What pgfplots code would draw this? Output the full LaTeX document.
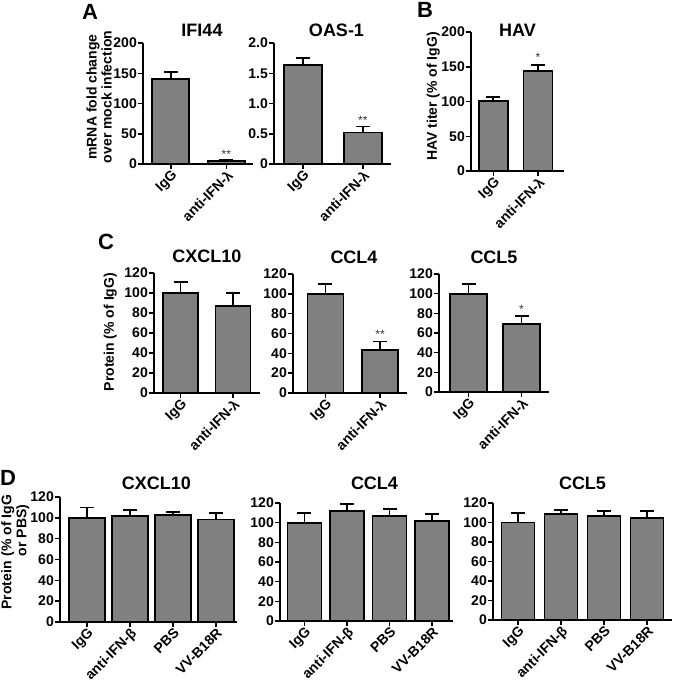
\documentclass[border=0pt]{standalone}
\usepackage{fontspec}
\setmainfont{Liberation Sans}
\usepackage{pgfplots}
\pgfplotsset{compat=1.18}
\definecolor{barfill}{RGB}{128,128,128}

\pgfplotsset{
  gp/.style={
    scale only axis, anchor=south west,
    axis x line*=bottom, axis y line*=left,
    axis line style={line width=1.8pt},
    ymin=0, clip=false, ybar,
    tick align=outside, major tick length=5pt,
    tick style={line width=1.5pt, black},
    xtick=data,
    ticklabel style={font=\fontsize{14}{16}\selectfont\bfseries, inner sep=1pt},
    /pgf/number format/assume math mode=true,
    xticklabel style={rotate=45, anchor=north east, inner sep=0pt},
    title style={font=\fontsize{18}{20}\selectfont\bfseries, anchor=base, at={(0.5,1)}},
    label style={font=\fontsize{14}{15}\selectfont\bfseries},
    ylabel style={anchor=south, inner sep=0pt},
    every axis plot/.append style={fill=barfill, draw=black, line width=1.8pt},
  },
  eb/.style={error bars/.cd, y dir=plus, y explicit,
    error bar style={line width=1.8pt, black},
    error mark options={rotate=90, line width=1.8pt, mark size=7pt, black}},
}
\tikzset{sig/.style={font=\fontsize{12}{12}\selectfont, text=black!80, anchor=north, inner sep=0pt}}

\begin{document}
\begin{tikzpicture}
\path[use as bounding box] (0,0) rectangle (675pt,-691pt);

% ---- A ----
\node[font=\fontsize{22}{24}\selectfont\bfseries] at (90pt,-12pt) {A};
\begin{axis}[gp, at={(143pt,-164pt)}, width=110pt, height=121pt,
  xmin=-0.5, xmax=1.48, ymax=200, ytick={0,50,100,150,200}, bar width=37pt,
  xticklabels={IgG,anti-IFN-λ},
  title=IFI44, title style={xshift=4pt, yshift=1pt},
  ylabel={mRNA fold change\\over mock infection},
  ylabel style={align=center, at={(axis description cs:-0.282,0.554)}}]
\addplot[eb] coordinates {(0,140) +- (0,12) (1,4.5) +- (0,2)};
\node[sig] at (axis cs:1,23) {**};
\end{axis}

\begin{axis}[gp, at={(274pt,-164pt)}, width=117pt, height=121pt,
  xmin=-0.48, xmax=1.47, ymax=2, ytick={0,0.5,1,1.5,2},
  yticklabels={0,0.5,1.0,1.5,2.0}, bar width=38pt,
  xticklabels={IgG,anti-IFN-λ},
  title=OAS-1, title style={xshift=4pt, yshift=1pt}]
\addplot[eb] coordinates {(0,1.63) +- (0,0.12) (1,0.52) +- (0,0.10)};
\node[sig] at (axis cs:1,0.79) {**};
\end{axis}

% ---- B ----
\node[font=\fontsize{22}{24}\selectfont\bfseries] at (425pt,-10pt) {B};
\begin{axis}[gp, at={(471pt,-171pt)}, width=93pt, height=139pt,
  xmin=-0.5, xmax=1.58, ymax=200, ytick={0,50,100,150,200}, bar width=29pt,
  xticklabels={IgG,anti-IFN-λ},
  title=HAV, title style={yshift=-10pt},
  ylabel={HAV titer (\% of IgG)},
  ylabel style={at={(axis description cs:-0.333,0.536)}}]
\addplot[eb] coordinates {(0,101) +- (0,6) (1,144) +- (0,8)};
\node[sig] at (axis cs:1,170) {*};
\end{axis}

% ---- C ----
\node[font=\fontsize{22}{24}\selectfont\bfseries] at (106pt,-242pt) {C};
\begin{axis}[gp, at={(154pt,-393pt)}, width=106pt, height=120pt,
  xmin=-0.505, xmax=1.514, ymax=120, ytick={0,20,...,120}, bar width=35pt,
  xticklabels={IgG,anti-IFN-λ},
  title=CXCL10, title style={yshift=5pt},
  ylabel={Protein (\% of IgG)},
  ylabel style={at={(axis description cs:-0.349,0.508)}}]
\addplot[eb] coordinates {(0,100) +- (0,11) (1,87) +- (0,13)};
\end{axis}

\begin{axis}[gp, at={(293pt,-393pt)}, width=114pt, height=119pt,
  xmin=-0.596, xmax=1.495, ymax=120, ytick={0,20,...,120}, bar width=36pt,
  xticklabels={IgG,anti-IFN-λ},
  title=CCL4, title style={xshift=4pt, yshift=5pt}]
\addplot[eb] coordinates {(0,100) +- (0,10) (1,43.5) +- (0,8.5)};
\node[sig] at (axis cs:1,63.5) {**};
\end{axis}

\begin{axis}[gp, at={(439pt,-392pt)}, width=110pt, height=118pt,
  xmin=-0.557, xmax=1.519, ymax=120, ytick={0,20,...,120}, bar width=37pt,
  xticklabels={IgG,anti-IFN-λ},
  title=CCL5, title style={yshift=5pt}]
\addplot[eb] coordinates {(0,100) +- (0,10) (1,69) +- (0,8)};
\node[sig] at (axis cs:1,88.5) {*};
\end{axis}

% ---- D ----
\node[font=\fontsize{22}{24}\selectfont\bfseries] at (8pt,-478pt) {D};
\begin{axis}[gp, at={(60pt,-622pt)}, width=177pt, height=125pt,
  xmin=-0.628, xmax=3.49, ymax=120, ytick={0,20,...,120}, bar width=36pt,
  xticklabels={IgG,anti-IFN-β,PBS,VV-B18R},
  title=CXCL10, title style={xshift=8pt, yshift=2pt},
  ylabel={Protein\hspace{5pt}\begin{tabular}[t]{@{}l@{}}(\% of IgG\\or PBS)\end{tabular}},
  ylabel style={at={(axis description cs:-0.164,0.56)}}]
\addplot[eb] coordinates {(0,100) +- (0,10) (1,101.5) +- (0,6) (2,103) +- (0,2.5) (3,98.5) +- (0,6.5)};
\end{axis}

\begin{axis}[gp, at={(280pt,-621pt)}, width=173pt, height=118pt,
  xmin=-0.576, xmax=3.494, ymax=120, ytick={0,20,...,120}, bar width=34pt,
  xticklabels={IgG,anti-IFN-β,PBS,VV-B18R},
  title=CCL4, title style={xshift=8pt, yshift=8pt}]
\addplot[eb] coordinates {(0,100) +- (0,10) (1,112) +- (0,7) (2,106.5) +- (0,7.5) (3,102) +- (0,6.5)};
\end{axis}

\begin{axis}[gp, at={(493pt,-620pt)}, width=179pt, height=117pt,
  xmin=-0.581, xmax=3.581, ymax=120, ytick={0,20,...,120}, bar width=33pt,
  xticklabels={IgG,anti-IFN-β,PBS,VV-B18R},
  title=CCL5, title style={yshift=8pt}]
\addplot[eb] coordinates {(0,100) +- (0,9.5) (1,108.5) +- (0,4.5) (2,106.5) +- (0,5) (3,105) +- (0,7)};
\end{axis}
\end{tikzpicture}
\end{document}
